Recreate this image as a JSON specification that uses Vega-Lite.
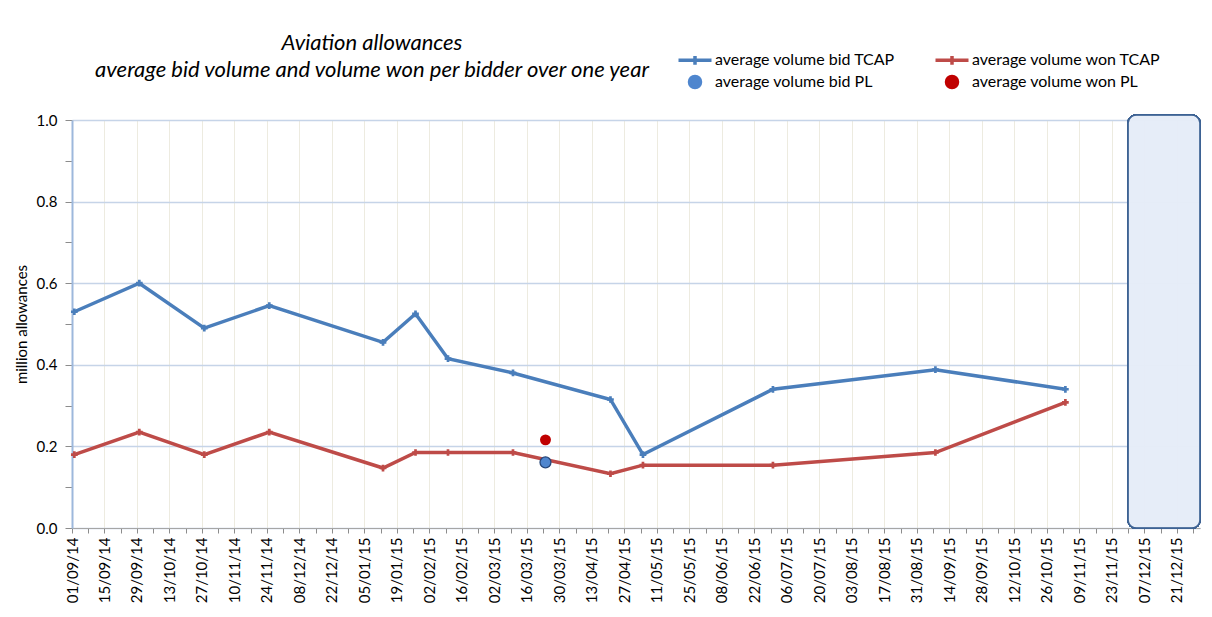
{
  "$schema": "https://vega.github.io/schema/vega-lite/v6.json",
  "width": 1128,
  "height": 408,
  "autosize": {"type": "none"},
  "padding": {"left": 72, "top": 120, "right": 12, "bottom": 89},
  "background": "white",
  "config": {
    "view": {"stroke": null},
    "font": "Lato"
  },
  "title": {
    "text": ["Aviation allowances", "average bid volume and volume won per bidder over one year"],
    "anchor": "start",
    "align": "center",
    "dx": 300,
    "dy": 66,
    "offset": 36,
    "frame": "group",
    "font": "Lato",
    "fontSize": 22,
    "fontStyle": "italic",
    "fontWeight": "normal",
    "color": "black",
    "lineHeight": 27
  },
  "data": {
    "values": [
      {"date": "2014-09-02", "series": "average volume bid TCAP", "value": 0.53},
      {"date": "2014-09-30", "series": "average volume bid TCAP", "value": 0.60},
      {"date": "2014-10-28", "series": "average volume bid TCAP", "value": 0.49},
      {"date": "2014-11-25", "series": "average volume bid TCAP", "value": 0.545},
      {"date": "2015-01-13", "series": "average volume bid TCAP", "value": 0.455},
      {"date": "2015-01-27", "series": "average volume bid TCAP", "value": 0.525},
      {"date": "2015-02-10", "series": "average volume bid TCAP", "value": 0.415},
      {"date": "2015-03-10", "series": "average volume bid TCAP", "value": 0.38},
      {"date": "2015-04-21", "series": "average volume bid TCAP", "value": 0.315},
      {"date": "2015-05-05", "series": "average volume bid TCAP", "value": 0.18},
      {"date": "2015-06-30", "series": "average volume bid TCAP", "value": 0.34},
      {"date": "2015-09-08", "series": "average volume bid TCAP", "value": 0.388},
      {"date": "2015-11-03", "series": "average volume bid TCAP", "value": 0.34},
      {"date": "2014-09-02", "series": "average volume won TCAP", "value": 0.18},
      {"date": "2014-09-30", "series": "average volume won TCAP", "value": 0.235},
      {"date": "2014-10-28", "series": "average volume won TCAP", "value": 0.18},
      {"date": "2014-11-25", "series": "average volume won TCAP", "value": 0.235},
      {"date": "2015-01-13", "series": "average volume won TCAP", "value": 0.147},
      {"date": "2015-01-27", "series": "average volume won TCAP", "value": 0.185},
      {"date": "2015-02-10", "series": "average volume won TCAP", "value": 0.185},
      {"date": "2015-03-10", "series": "average volume won TCAP", "value": 0.185},
      {"date": "2015-04-21", "series": "average volume won TCAP", "value": 0.133},
      {"date": "2015-05-05", "series": "average volume won TCAP", "value": 0.154},
      {"date": "2015-06-30", "series": "average volume won TCAP", "value": 0.154},
      {"date": "2015-09-08", "series": "average volume won TCAP", "value": 0.185},
      {"date": "2015-11-03", "series": "average volume won TCAP", "value": 0.308},
      {"date": "2015-03-24", "series": "average volume bid PL", "value": 0.161},
      {"date": "2015-03-24", "series": "average volume won PL", "value": 0.216}
    ]
  },
  "encoding": {
    "x": {
      "field": "date",
      "type": "temporal",
      "title": null,
      "scale": {"type": "utc", "domain": [1409529600000, 1451520000000]},
      "axis": {
        "values": [1409529600000,1410134400000,1410739200000,1411344000000,1411948800000,1412553600000,1413158400000,1413763200000,1414368000000,1414972800000,1415577600000,1416182400000,1416787200000,1417392000000,1417996800000,1418601600000,1419206400000,1419811200000,1420416000000,1421020800000,1421625600000,1422230400000,1422835200000,1423440000000,1424044800000,1424649600000,1425254400000,1425859200000,1426464000000,1427068800000,1427673600000,1428278400000,1428883200000,1429488000000,1430092800000,1430697600000,1431302400000,1431907200000,1432512000000,1433116800000,1433721600000,1434326400000,1434931200000,1435536000000,1436140800000,1436745600000,1437350400000,1437955200000,1438560000000,1439164800000,1439769600000,1440374400000,1440979200000,1441584000000,1442188800000,1442793600000,1443398400000,1444003200000,1444608000000,1445212800000,1445817600000,1446422400000,1447027200000,1447632000000,1448236800000,1448841600000,1449446400000,1450051200000,1450656000000,1451260800000],
        "labelExpr": "round((datum.value - 1409529600000) / 604800000) % 2 == 0 ? utcFormat(datum.value, '%d/%m/%y') : ''",
        "labelAngle": 270,
        "labelOverlap": false,
        "labelFont": "Lato",
        "labelFontSize": 15,
        "labelColor": "black",
        "labelPadding": 4,
        "tickSize": 5,
        "tickColor": "#8C8C8C",
        "domainColor": "#A6A6A6",
        "domainWidth": 1,
        "grid": true,
        "gridColor": "#EDEBE0",
        "gridOpacity": {"condition": {"test": "round((datum.value - 1409529600000) / 604800000) % 2 == 0", "value": 1}, "value": 0}
      }
    },
    "y": {
      "field": "value",
      "type": "quantitative",
      "scale": {"domain": [0, 1], "nice": false},
      "axis": {
        "title": "million allowances",
        "titleFont": "Lato",
        "titleFontSize": 15,
        "titleFontWeight": "normal",
        "titleColor": "black",
        "titlePadding": 7,
        "values": [0, 0.1, 0.2, 0.3, 0.4, 0.5, 0.6, 0.7, 0.8, 0.9, 1.0],
        "labelExpr": "round(datum.value * 10) % 2 == 0 ? format(datum.value, '.1f') : ''",
        "labelFont": "Lato",
        "labelFontSize": 15,
        "labelColor": "black",
        "labelPadding": 8,
        "tickSize": 7,
        "tickColor": "#8C8C8C",
        "domainColor": "#9DB8DC",
        "domainWidth": 2,
        "grid": true,
        "gridColor": "#C6D4E8",
        "gridWidth": 1.5,
        "gridOpacity": {"condition": {"test": "round(datum.value * 10) % 2 == 0", "value": 1}, "value": 0}
      }
    }
  },
  "layer": [
    {
      "mark": {"type": "rect", "fill": "#E6EDF7", "fillOpacity": 0.55, "stroke": "#3E6394", "strokeWidth": 1.5, "cornerRadius": 8, "clip": false},
      "encoding": {
        "x": {"datum": {"year": 2015, "month": "nov", "date": 30, "utc": true}, "type": "temporal"},
        "x2": {"datum": {"year": 2015, "month": "dec", "date": 31, "utc": true}},
        "y": {"datum": 0, "type": "quantitative"},
        "y2": {"datum": 1.012}
      }
    },
    {
      "transform": [{"filter": "indexof(datum.series, 'TCAP') >= 0"}],
      "mark": {"type": "line", "strokeWidth": 3.5},
      "encoding": {
        "color": {
          "field": "series",
          "type": "nominal",
          "scale": {
            "domain": ["average volume bid TCAP", "average volume bid PL", "average volume won TCAP", "average volume won PL"],
            "range": ["#4A7EBB", "#4F86CE", "#BE4B48", "#C00000"]
          },
          "legend": {
            "title": null,
            "orient": "none",
            "legendX": 615,
            "legendY": -68,
            "columns": 2,
            "columnPadding": 32,
            "rowPadding": -3,
            "symbolSize": 121,
            "symbolStrokeWidth": 3.5,
            "labelOffset": 12,
            "labelFont": "Lato",
            "labelFontSize": 16,
            "labelColor": "black",
            "labelLimit": 400,
            "encode": {
              "symbols": {
                "update": {
                  "shape": {"signal": "indexof(datum.value, ' PL') >= 0 ? 'circle' : 'M-3,0L3,0M0,-0.8L0,0.8'"},
                  "fill": {"signal": "indexof(datum.value, ' PL') >= 0 ? scale('color', datum.value) : 'transparent'"},
                  "stroke": {"signal": "indexof(datum.value, ' PL') >= 0 ? 'transparent' : scale('color', datum.value)"},
                  "strokeWidth": {"value": 3.5},
                  "opacity": {"value": 1}
                }
              }
            }
          }
        }
      }
    },
    {
      "transform": [{"filter": "indexof(datum.series, 'TCAP') >= 0"}],
      "mark": {"type": "point", "shape": "cross", "filled": true, "size": 45, "opacity": 1},
      "encoding": {
        "color": {"field": "series", "type": "nominal"}
      }
    },
    {
      "transform": [{"filter": "indexof(datum.series, ' PL') >= 0"}],
      "mark": {"type": "point", "shape": "circle", "filled": true, "size": 120, "opacity": 1, "stroke": "#27487A", "strokeWidth": 1.3},
      "encoding": {
        "color": {"field": "series", "type": "nominal"},
        "strokeOpacity": {"condition": {"test": "datum.series == 'average volume bid PL'", "value": 1}, "value": 0}
      }
    }
  ]
}
